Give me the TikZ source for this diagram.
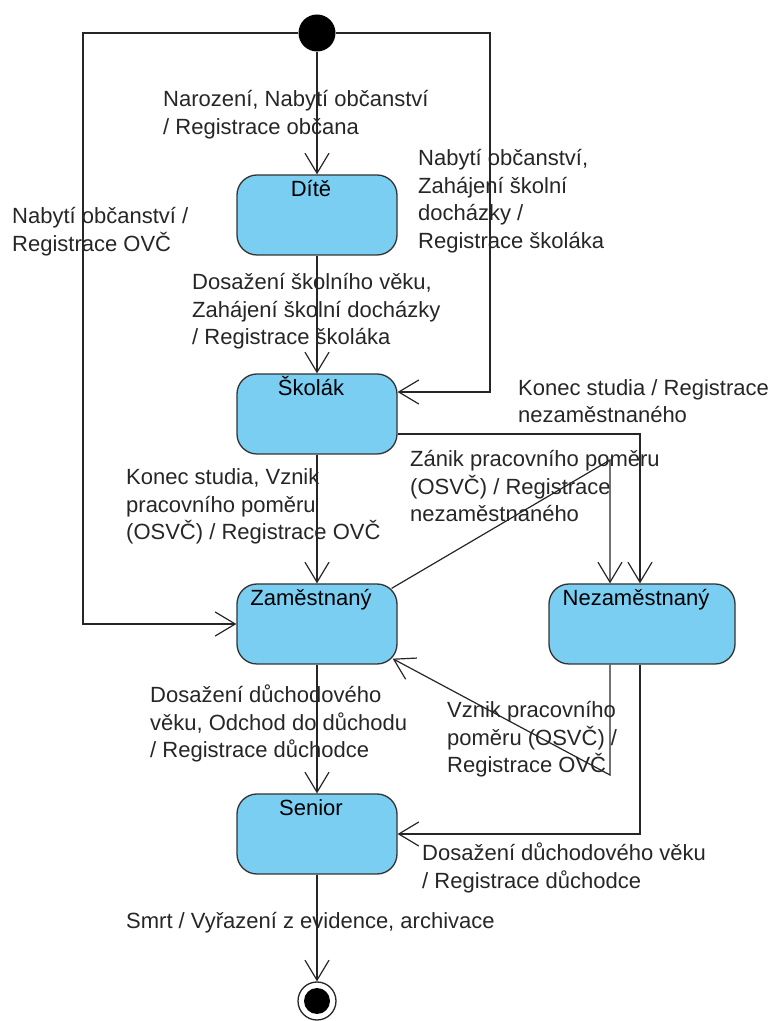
\documentclass[tikz,border=0pt]{standalone}
\usepackage{fontspec}
\setmainfont{Liberation Sans}
\usetikzlibrary{arrows.meta,calc}
\definecolor{stblue}{RGB}{122,206,242}
\tikzset{
    state/.style={draw=black!80,line width=1.3pt,fill=stblue,rounded corners=20pt,minimum width=160pt,minimum height=80pt,inner sep=0pt},
    stname/.style={anchor=base,yshift=-22pt,xshift=-6pt,inner sep=0pt,font=\fontsize{22}{27.5}\selectfont},
    trans/.style={line width=1.2pt,draw=black!85,-{Straight Barb[length=20pt,width=24pt]}},
    lbl/.style={anchor=base west,align=left,inner sep=0pt,text=black!85,font=\fontsize{22}{27.5}\selectfont}
}

\begin{document}
\begin{tikzpicture}[x=1pt,y=1pt]
    \useasboundingbox (0,0) rectangle (768,1021);
    \node [circle,fill=black,minimum size=37pt,inner sep=0pt] (init) at (317,988) {};
    \node [state,label={[stname,name=dite-t]north:Dítě}] (dite) at (317,806) {};
    \node [state,label={[stname,name=skolak-t]north:Školák}] (skolak) at (317,607) {};
    \node [state,label={[stname,name=zam-t]north:Zaměstnaný}] (zam) at (317,397) {};
    \node [state,minimum width=186pt,label={[stname,name=nezam-t]north:Nezaměstnaný}] (nezam) at (642,397) {};
    \node [state,label={[stname,name=senior-t]north:Senior}] (senior) at (317,187) {};
    \node [circle,draw=black!85,line width=1.3pt,minimum size=38pt,inner sep=0pt] (fin) at (317,20) {};
    \fill (fin.center) circle (13pt);
    \coordinate (lft) at (83,988);
    \coordinate (rgt) at (490,988);

    \draw [trans] (init) -- (dite);
    \draw [trans] (dite) -- (skolak);
    \draw [trans] (skolak) -- (zam);
    \draw [trans] (zam) -- (senior);
    \draw [trans] (senior) -- (fin);
    \draw [trans] (init) -- (lft) |- (zam);
    \draw [trans] (init) -- (rgt) |- ($(skolak.east)+(0,22)$);
    \draw [trans] ($(skolak.east)+(0,-20)$) -| ($(nezam.north)+(-2,0)$);
    \draw [trans] ($(zam.north east)+(-6,-5)$) -- (610,561) -- ($(nezam.north)+(-32,0)$);
    \draw [trans] ($(nezam.south)+(-32,0)$) -- (610,246) -- ($(zam.south east)+(-5,6)$);
    \draw [trans] ($(nezam.south)+(-2,0)$) |- (senior);

    \node [lbl] (l1) at (163,886.5) {Narození, Nabytí občanství\\/ Registrace občana};
    \node [lbl] (l2) at (418,772.5) {Nabytí občanství,\\Zahájení školní\\docházky /\\Registrace školáka};
    \node [lbl] (l3) at (12,769.5) {Nabytí občanství /\\Registrace OVČ};
    \node [lbl] (l4) at (192,676) {Dosažení školního věku,\\Zahájení školní docházky\\/ Registrace školáka};
    \node [lbl] (l5) at (518,598) {Konec studia / Registrace\\nezaměstnaného};
    \node [lbl] (l6) at (410,499) {Zánik pracovního poměru\\(OSVČ) / Registrace\\nezaměstnaného};
    \node [lbl] (l7) at (126,481) {Konec studia, Vznik\\pracovního poměru\\(OSVČ) / Registrace OVČ};
    \node [lbl] (l8) at (150,263) {Dosažení důchodového\\věku, Odchod do důchodu\\/ Registrace důchodce};
    \node [lbl] (l9) at (447,248) {Vznik pracovního\\poměru (OSVČ) /\\Registrace OVČ};
    \node [lbl] (l10) at (422,132.5) {Dosažení důchodového věku\\/ Registrace důchodce};
    \node [lbl] (l11) at (126,92) {Smrt / Vyřazení z evidence, archivace};
\end{tikzpicture}
\end{document}
